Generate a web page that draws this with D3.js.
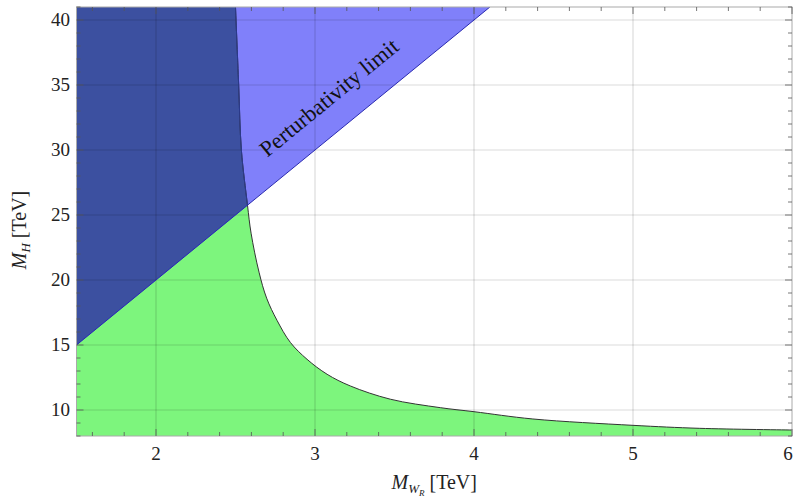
<!DOCTYPE html>
<html><head><meta charset="utf-8">
<script src="https://cdn.jsdelivr.net/npm/d3@7"></script>
<style>body{margin:0;background:#fff;} text{font-family:"Liberation Serif","Times New Roman",Tinos,"DejaVu Serif",serif;}</style>
</head><body>
<svg id="c" width="795" height="501"></svg>
<script>
// ---- data ----
const xTicks = [2, 3, 4, 5, 6];
const yTicks = [10, 15, 20, 25, 30, 35, 40];
// boundary of green region: M_WR vs M_H
const curveMW = [2.50, 2.52, 2.537, 2.575, 2.598, 2.648, 2.696, 2.761, 2.845, 2.95, 3.076, 3.222, 3.474, 3.788, 4.0, 4.37, 5.0, 5.42, 6.0];
const curveMH = [41, 35, 30, 25.8, 23.6, 20.6, 18.6, 16.9, 15.2, 13.9, 12.75, 11.85, 10.83, 10.18, 9.87, 9.31, 8.82, 8.59, 8.46];
// perturbativity limit line
const limitMW = [1.5, 4.1];
const limitMH = [15, 41];
const limitLabel = "Perturbativity limit";

const FONT = '"Liberation Serif","Times New Roman",Tinos,"DejaVu Serif",serif';
const svg = d3.select("#c");
const x = d3.scaleLinear().domain([1.5, 6]).range([76.5, 792]);
const y = d3.scaleLinear().domain([8, 41]).range([436, 7]);
const [x0, x1] = x.domain(), [y0, y1] = y.domain();

const curve = curveMW.map((d, i) => [d, curveMH[i]]);
const limit = limitMW.map((d, i) => [d, limitMH[i]]);

const line = d3.line().x(d => x(d[0])).y(d => y(d[1]));
const lineC = d3.line().x(d => x(d[0])).y(d => y(d[1])).curve(d3.curveCatmullRom.alpha(0.5));

const greenPath = "M" + x(x0) + "," + y(y0) + "L" + x(x0) + "," + y(y1) + "L" + lineC(curve).slice(1) + "L" + x(x1) + "," + y(y0) + "Z";
const bluePts = [limit[0], limit[1], [x0, y1]];

const defs = svg.append("defs");
defs.append("clipPath").attr("id", "plotclip").append("rect")
  .attr("x", x(x0)).attr("y", y(y1)).attr("width", x(x1) - x(x0)).attr("height", y(y0) - y(y1));
defs.append("clipPath").attr("id", "blueclip").append("path").attr("d", line(bluePts) + "Z");

const g = svg.append("g").attr("clip-path", "url(#plotclip)");
g.append("path").attr("d", greenPath).attr("fill", "#7df57d");
g.append("path").attr("d", line(bluePts) + "Z").attr("fill", "#8080fa");
g.append("path").attr("d", greenPath).attr("fill", "#3c50a0").attr("clip-path", "url(#blueclip)");

// gridlines
g.selectAll(".gx").data(xTicks.filter(t => t < 6)).enter().append("line")
  .attr("x1", d => x(d)).attr("x2", d => x(d)).attr("y1", y(y0)).attr("y2", y(y1))
  .attr("stroke", "#000").attr("stroke-opacity", 0.14).attr("stroke-width", 1.2);
g.selectAll(".gy").data(yTicks).enter().append("line")
  .attr("y1", d => y(d)).attr("y2", d => y(d)).attr("x1", x(x0)).attr("x2", x(x1))
  .attr("stroke", "#000").attr("stroke-opacity", 0.14).attr("stroke-width", 1.2);

// boundaries
g.append("path").attr("d", lineC(curve)).attr("fill", "none").attr("stroke", "#333").attr("stroke-width", 1);
g.append("path").attr("d", lineC(curve)).attr("fill", "none").attr("stroke", "#2a3a90").attr("stroke-width", 1).attr("clip-path", "url(#blueclip)");
g.append("path").attr("d", line(limit)).attr("fill", "none").attr("stroke", "#2828b0").attr("stroke-width", 1);

// frame
svg.append("rect").attr("x", x(x0)).attr("y", y(y1)).attr("width", x(x1) - x(x0)).attr("height", y(y0) - y(y1))
  .attr("fill", "none").attr("stroke", "#aaa").attr("stroke-width", 1);

// ticks (inside, all four sides)
const minorX = d3.range(1.6, 6.0001, 0.2).map(v => +v.toFixed(1));
const minorY = d3.range(8, 41.0001, 1);
const tk = svg.append("g").attr("stroke", "#555").attr("stroke-width", 0.8);
minorX.forEach(v => {
  const L = xTicks.includes(v) ? 7 : 4;
  tk.append("line").attr("x1", x(v)).attr("x2", x(v)).attr("y1", y(y0)).attr("y2", y(y0) - L);
  tk.append("line").attr("x1", x(v)).attr("x2", x(v)).attr("y1", y(y1)).attr("y2", y(y1) + L);
});
minorY.forEach(v => {
  const L = yTicks.includes(v) ? 7 : 4;
  tk.append("line").attr("y1", y(v)).attr("y2", y(v)).attr("x1", x(x0)).attr("x2", x(x0) + L);
  tk.append("line").attr("y1", y(v)).attr("y2", y(v)).attr("x1", x(x1)).attr("x2", x(x1) - L);
});

// tick labels
svg.append("g").selectAll("text").data(xTicks).enter().append("text")
  .attr("x", d => Math.min(x(d), 788)).attr("y", 460).attr("text-anchor", "middle").attr("font-family", FONT)
  .attr("font-size", 19).attr("fill", "#222").text(d => d);
svg.append("g").selectAll("text").data(yTicks).enter().append("text")
  .attr("x", 70).attr("y", d => y(d) + 6).attr("text-anchor", "end").attr("font-family", FONT)
  .attr("font-size", 19).attr("fill", "#222").text(d => d);

// axis titles
const xt = svg.append("text").attr("x", x((x0 + x1) / 2)).attr("y", 489).attr("text-anchor", "middle")
  .attr("font-family", FONT).attr("font-size", 20).attr("fill", "#222");
xt.append("tspan").attr("font-style", "italic").text("M");
xt.append("tspan").attr("font-style", "italic").attr("font-size", 13).attr("dy", 4).text("W");
xt.append("tspan").attr("font-style", "italic").attr("font-size", 9).attr("dy", 3).text("R");
xt.append("tspan").attr("dy", -7).text(" [TeV]");

const yt = svg.append("text").attr("transform", "translate(26,230) rotate(-90)").attr("text-anchor", "middle")
  .attr("font-family", FONT).attr("font-size", 20).attr("fill", "#222");
yt.append("tspan").attr("font-style", "italic").text("M");
yt.append("tspan").attr("font-style", "italic").attr("font-size", 13).attr("dy", 4).text("H");
yt.append("tspan").attr("dy", -4).text(" [TeV]");

// region label along the limit line
const ang = Math.atan2(y(limit[1][1]) - y(limit[0][1]), x(limit[1][0]) - x(limit[0][0])) * 180 / Math.PI;
svg.append("text").attr("transform", `translate(${x(3.09)},${y(34.0)}) rotate(${ang})`)
  .attr("text-anchor", "middle").attr("dy", 7).attr("font-family", FONT)
  .attr("font-size", 22.5).attr("fill", "#111").text(limitLabel);
</script>
</body></html>
